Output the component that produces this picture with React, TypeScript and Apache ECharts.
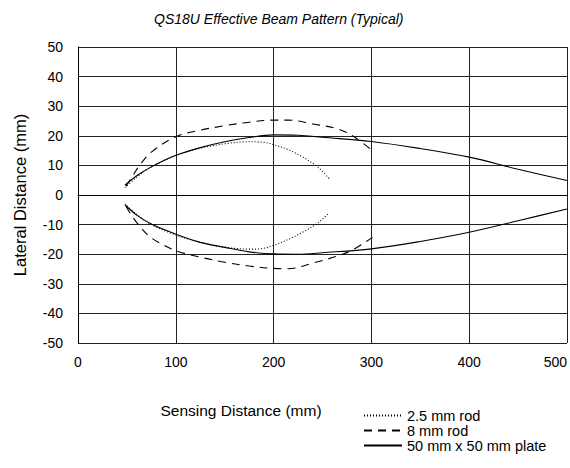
import React, { useEffect, useRef } from "react";
import * as echarts from "echarts";

const xTicks = [0, 100, 200, 300, 400, 500];
const yTicks = [-50, -40, -30, -20, -10, 0, 10, 20, 30, 40, 50];
const seriesNames = ["2.5 mm rod", "8 mm rod", "50 mm x 50 mm plate"];

const rodSmallX = [48, 60, 75, 100, 125, 150, 175, 190, 200, 215, 230, 245, 257];
const rodSmallUpperY = [2.5, 6, 9.5, 13.3, 15.8, 17.3, 18, 17.8, 17, 15.3, 12.8, 9.5, 5.5];
const rodSmallLowerY = [-3, -6.5, -10, -13.5, -16, -17.6, -18.3, -18, -17, -15, -12.5, -9.5, -6];

const rod8UpperX = [49, 55, 63, 75, 100, 125, 150, 175, 200, 215, 240, 266, 283, 301];
const rod8UpperY = [2.9, 6, 10, 14.5, 19.7, 21.9, 23.4, 24.6, 25.3, 25.3, 24, 22.3, 19.5, 15];
const rod8LowerX = [49, 55, 63, 75, 100, 125, 150, 175, 200, 215, 240, 276, 301];
const rod8LowerY = [-3.8, -7, -10.5, -14.5, -18.8, -21, -22.7, -24, -24.8, -24.9, -23, -19.3, -14.3];

const plateX = [48, 60, 75, 100, 125, 150, 175, 200, 225, 250, 300, 350, 400, 450, 500];
const plateUpperY = [3.3, 6.5, 9.5, 13.4, 16, 18, 19.4, 20.3, 20.2, 19.5, 18.1, 15.7, 12.8, 8.7, 4.9];
const plateLowerY = [-3.3, -6.8, -9.8, -13.2, -16, -17.7, -19.2, -19.9, -20, -19.5, -18.2, -15.7, -12.6, -8.7, -4.7];

const zip = (xs: number[], ys: number[]) => xs.map((x, i) => [x, ys[i]]);

export default function App() {
  const ref = useRef<HTMLDivElement>(null);
  useEffect(() => {
    document.body.style.margin = "0";
    const chart = echarts.init(ref.current!, null, { renderer: "svg" });
    const font = "Liberation Sans, Arial, sans-serif";
    const mk = (name: string, data: number[][], type: any) => ({
      name,
      type: "line",
      data,
      symbol: "none",
      smooth: 0.35,
      color: "#000",
      lineStyle: { color: "#000", width: 1.1, type },
    });
    const dotted = [1, 2];
    const dashed = [8, 6];
    chart.setOption({
      animation: false,
      backgroundColor: "#fff",
      textStyle: { fontFamily: font },
      title: {
        text: "QS18U Effective Beam Pattern (Typical)",
        left: 149,
        top: 7,
        textStyle: { fontStyle: "italic", fontWeight: "normal", fontSize: 14, color: "#000", fontFamily: font },
      },
      grid: { left: 78, right: 0, top: 47, bottom: 125, containLabel: false },
      xAxis: {
        type: "value",
        min: xTicks[0],
        max: xTicks[xTicks.length - 1],
        interval: 100,
        axisLine: { show: true, lineStyle: { color: "#000", width: 1 } },
        axisTick: { show: false },
        axisLabel: { color: "#000", fontSize: 14, margin: 12, alignMaxLabel: "right", fontFamily: font },
        splitLine: { show: true, lineStyle: { color: "#222", width: 1 } },
      },
      yAxis: {
        type: "value",
        min: yTicks[0],
        max: yTicks[yTicks.length - 1],
        interval: 10,
        name: "Lateral Distance (mm)",
        nameLocation: "middle",
        nameGap: 50,
        nameRotate: 90,
        nameTextStyle: { color: "#000", fontSize: 16.5, fontFamily: font },
        axisLine: { show: true, lineStyle: { color: "#000", width: 1 } },
        axisTick: { show: false },
        axisLabel: { color: "#000", fontSize: 14, margin: 15, fontFamily: font },
        splitLine: { show: true, lineStyle: { color: "#222", width: 1 } },
      },
      legend: {
        data: seriesNames,
        orient: "vertical",
        left: 363,
        top: 408,
        padding: 0,
        itemWidth: 38,
        itemHeight: 10,
        itemGap: 0,
        itemStyle: { opacity: 0, color: "rgba(0,0,0,0)", borderWidth: 0 },
        textStyle: { color: "#000", fontSize: 14.5, lineHeight: 14, fontFamily: font },
      },
      graphic: [
        {
          type: "text",
          x: 241,
          y: 410,
          style: {
            text: "Sensing Distance (mm)",
            fill: "#000",
            font: `15.5px ${font}`,
            textAlign: "center",
            textVerticalAlign: "middle",
          },
        },
      ],
      series: [
        mk(seriesNames[0], zip(rodSmallX, rodSmallUpperY), dotted),
        mk(seriesNames[0], zip(rodSmallX, rodSmallLowerY), dotted),
        mk(seriesNames[1], zip(rod8UpperX, rod8UpperY), dashed),
        mk(seriesNames[1], zip(rod8LowerX, rod8LowerY), dashed),
        mk(seriesNames[2], zip(plateX, plateUpperY), "solid"),
        mk(seriesNames[2], zip(plateX, plateLowerY), "solid"),
      ],
    });
    return () => chart.dispose();
  }, []);
  return <div ref={ref} style={{ position: "absolute", left: 0, top: 0, width: 570, height: 468 }} />;
}
